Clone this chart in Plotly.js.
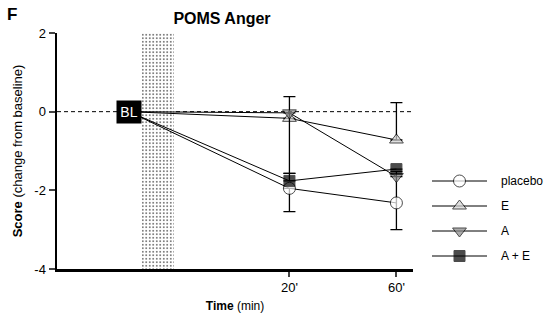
<!DOCTYPE html>
<html><head><meta charset="utf-8">
<script src="https://cdn.plot.ly/plotly-3.0.1.min.js"></script>
<style>body{margin:0;background:#fff}#g{width:550px;height:320px}</style>
</head><body><div id="g"></div>
<script>
// time points (min); -40 is the baseline position
const times = [-40, 20, 60];
const tickVals = [20, 60];
const tickText = ["20'", "60'"];
const seriesNames = ["placebo", "E", "A", "A + E"];
const placebo = [0, -1.95, -2.32];
const E = [0, -0.17, -0.72];
const A = [0, -0.03, -1.65];
const AE = [0, -1.76, -1.46];
// error bars (upper / lower)
const placeboUp = [0, 0, 0.8];
const placeboDown = [0, 0.59, 0.68];
const EUp = [0, 0.55, 0.95];
const EDown = [0, 0, 0];
const AUp = [0, 0, 0];
const ADown = [0, 1.54, 0];
const AEUp = [0, 0.19, 0];
const AEDown = [0, 0, 0];
// shaded intervention band (min) and y range
const bandStart = -35.2, bandEnd = -23.0;
const yMin = -4, yMax = 2;

const symbols = ['circle', 'triangle-up', 'triangle-down', 'square'];
const fills = ['#fff', '#d3d3d3', '#8a8a8a', '#000'];
const sizes = [12, 12, 12, 11];
const values = [placebo, E, A, AE];
const ups = [placeboUp, EUp, AUp, AEUp];
const downs = [placeboDown, EDown, ADown, AEDown];

const W = 550, H = 320, ML = 57, MR = 5, PW = W - ML - MR;
const mainRight = 413; // px of right end of x axis
const F = 'Liberation Sans, Arial, sans-serif';

const band = {x: [(bandStart + bandEnd) / 2], y: [yMax - yMin], base: [yMin], width: [bandEnd - bandStart],
  type: 'bar', showlegend: false, hoverinfo: 'skip',
  marker: {color: '#fff', line: {width: 0}, pattern: {shape: '.', fgcolor: '#555', bgcolor: '#fff', size: 3.5, solidity: 0.2}}};
const data = [band];
seriesNames.forEach((n, i) => {
  data.push({x: times, y: values[i], name: n, type: 'scatter', mode: 'lines+markers', showlegend: false,
    line: {color: '#000', width: 1},
    marker: {symbol: symbols[i], size: [0, sizes[i], sizes[i]], color: fills[i], line: {color: '#000', width: 1}},
    error_y: {type: 'data', symmetric: false, array: ups[i], arrayminus: downs[i], color: '#000', thickness: 1.3, width: 6},
    cliponaxis: false});
});
// custom legend in its own pixel-scaled axes on the right
const legX0 = 432, legX1 = 487, legTop = 181, legStep = 25;
const annotations = [];
seriesNames.forEach((n, i) => {
  const yy = legTop + i * legStep;
  data.push({x: [legX0, (legX0 + legX1) / 2, legX1], y: [yy, yy, yy], xaxis: 'x2', yaxis: 'y2', type: 'scatter',
    mode: 'lines+markers', showlegend: false, hoverinfo: 'skip', cliponaxis: false,
    line: {color: '#000', width: 1},
    marker: {symbol: symbols[i], size: [0, sizes[i], 0], color: fills[i], line: {color: '#000', width: 1}}});
  annotations.push({xref: 'x2', yref: 'y2', x: 499, y: yy, xanchor: 'left', yanchor: 'middle', text: n, showarrow: false,
    font: {size: 12, family: F}});
});
annotations.push({x: times[0], y: 0, text: 'BL', showarrow: false, bgcolor: '#000', font: {color: '#fff', size: 14, family: F}, width: 22, height: 20, borderpad: 1});
annotations.push({xref: 'paper', yref: 'paper', x: (5 - ML) / PW, y: 1 + (33 - 15) / 236, xanchor: 'left', yanchor: 'middle', text: '<b>F</b>', showarrow: false, font: {size: 17, family: F}});

const layout = {
  width: W, height: H, margin: {l: ML, r: MR, t: 33, b: 51},
  paper_bgcolor: '#fff', plot_bgcolor: 'rgba(0,0,0,0)', font: {family: F, size: 13, color: '#000'},
  showlegend: false,
  title: {text: '<b>POMS Anger</b>', x: 222 / W, xanchor: 'center', y: 1 - 18 / H, yanchor: 'middle', yref: 'container', font: {size: 16}},
  xaxis: {domain: [0, (mainRight - ML) / PW], range: [-66.9, 66.2], tickvals: tickVals, ticktext: tickText, showgrid: false, zeroline: false,
    showline: true, linewidth: 2.5, linecolor: '#000', ticks: 'outside', ticklen: 5, tickwidth: 2,
    title: {text: '<b>Time</b> (min)', standoff: 8, font: {size: 12}}},
  yaxis: {range: [yMin, yMax], tickvals: [2, 0, -2, -4], ticktext: ['2', '0', '-2', '-4'], showgrid: false, zeroline: false,
    showline: true, linewidth: 2.5, linecolor: '#000', ticks: 'outside', ticklen: 6, tickwidth: 2,
    title: {text: '<b>Score</b> (change from baseline)', standoff: 9, font: {size: 13}}},
  xaxis2: {domain: [(423 - ML) / PW, 1], range: [423, W - MR], visible: false, fixedrange: true},
  yaxis2: {anchor: 'x2', range: [269, 33], visible: false, fixedrange: true},
  shapes: [{type: 'line', xref: 'x domain', x0: 0, x1: 1, yref: 'y', y0: 0, y1: 0, line: {color: '#000', width: 1, dash: '4px,3px'}, layer: 'below'}],
  annotations: annotations,
  bargap: 0
};
Plotly.newPlot('g', data, layout, {displayModeBar: false, staticPlot: true});
</script></body></html>
